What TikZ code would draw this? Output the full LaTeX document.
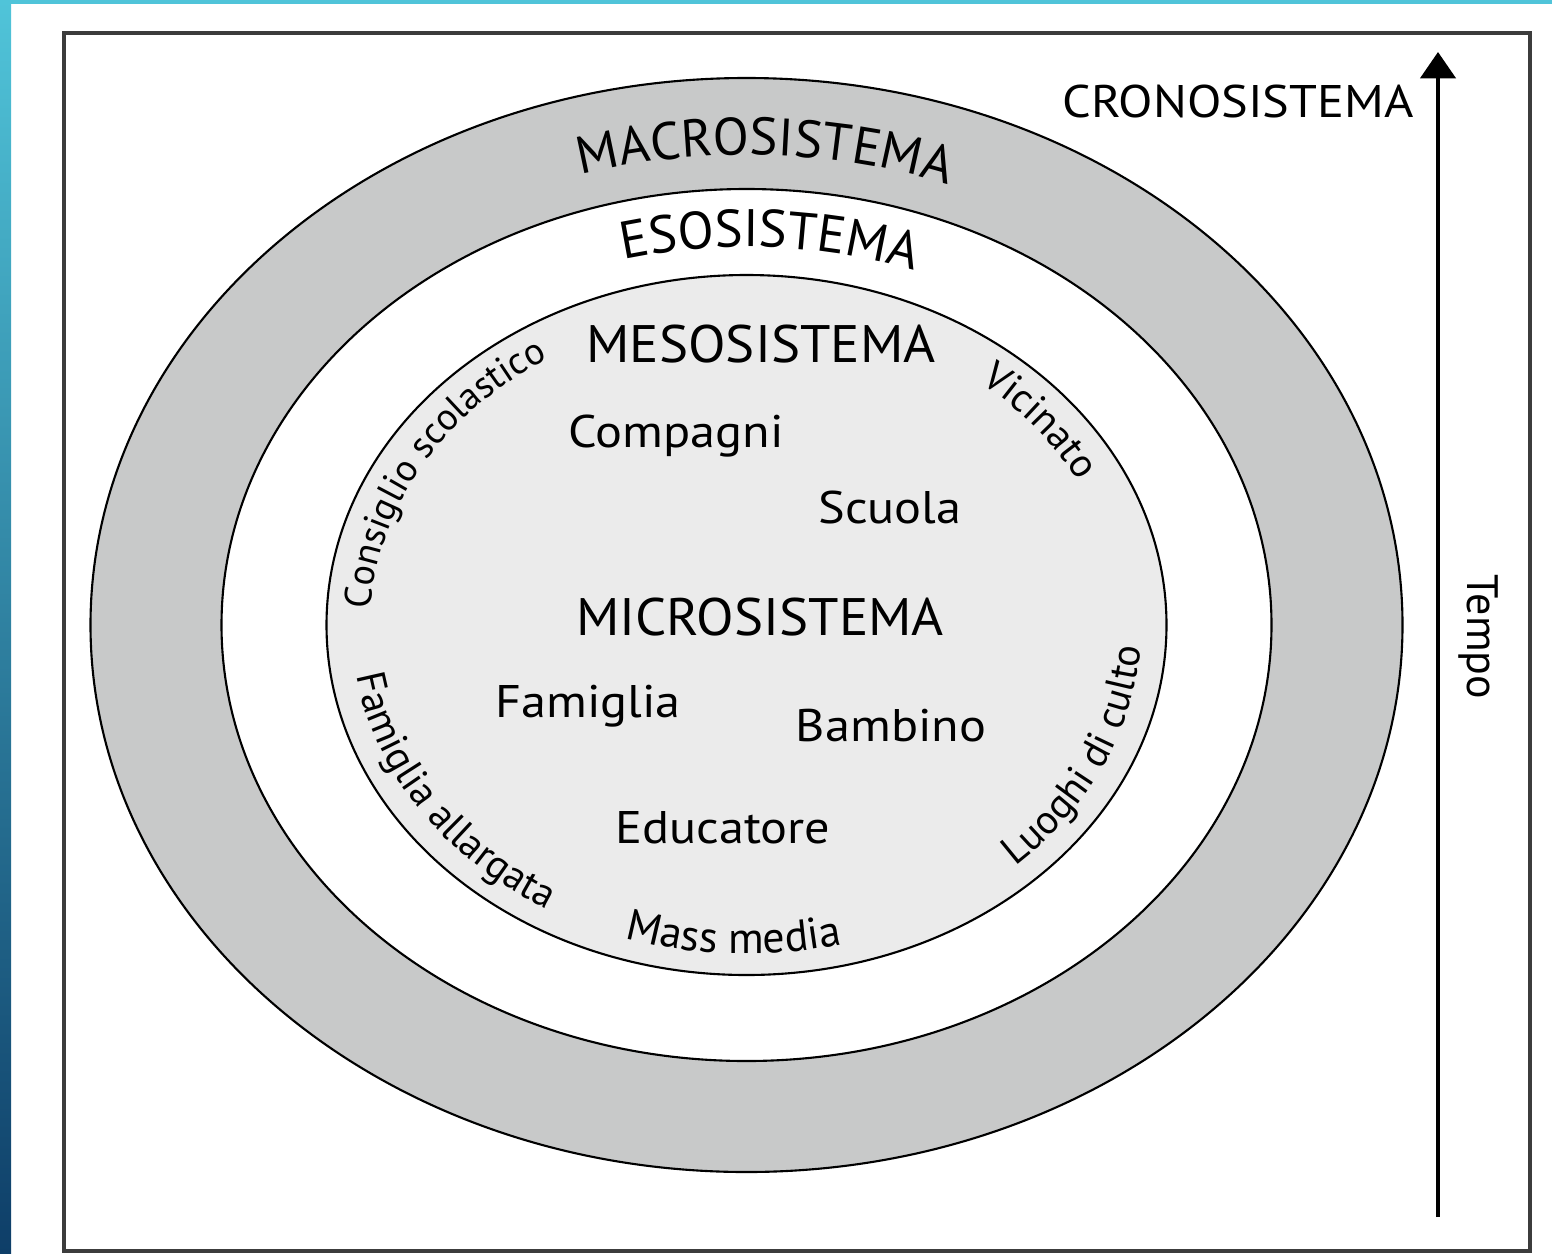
\documentclass[tikz,border=0pt]{standalone}
\usepackage{fontspec}
\setmainfont{PT Sans}
\usetikzlibrary{arrows.meta,decorations.text}

\definecolor{ringgray}{RGB}{200,201,201}
\definecolor{mesogray}{RGB}{235,235,235}
\definecolor{barteal}{RGB}{80,196,217}
\definecolor{barmid}{RGB}{44,140,180}
\definecolor{barblue}{RGB}{14,62,104}
\definecolor{framegray}{RGB}{60,60,60}

\newcommand{\ringfont}{\fontsize{15}{18}\selectfont}
\newcommand{\sysfont}{\fontsize{15}{18}\selectfont}
\newcommand{\itemfont}{\fontsize{13}{15}\selectfont}
\newcommand{\arcfont}{\fontsize{11.5}{14}\selectfont}

\begin{document}
\begin{tikzpicture}[x=0.01cm, y=0.01cm,
  ring/.style={draw=black, line width=0.6pt},
  sys/.style={font=\sysfont, anchor=base, inner sep=0pt, xscale=1.04},
  item/.style={font=\itemfont, anchor=base, inner sep=0pt, xscale=1.1},
  arclabel/.style={decorate, decoration={text along path, text align=center, text={#1}}}]
\useasboundingbox (0,0) rectangle (1552,1253);
% coloured edges of the slide
\shade[top color=barteal, middle color=barmid, bottom color=barblue] (0,0) rectangle (11,1253);
\fill[barteal] (0,1249) rectangle (1552,1253);
\draw[framegray, line width=0.9pt] (64,2) rectangle (1530,1220);
%
\coordinate (c) at (746.5,628);
\draw[ring, fill=ringgray] (c) ellipse [x radius=656, y radius=547];
\draw[ring, fill=white] (c) ellipse [x radius=525, y radius=436];
\draw[ring, fill=mesogray] (c) ellipse [x radius=420, y radius=350];
%
\path[arclabel={|\ringfont|MACROSISTEMA}] (c) ++(128:579 and 470) arc[start angle=128, end angle=48, x radius=579, y radius=470];
\path[arclabel={|\ringfont|ESOSISTEMA}] (c) ++(127:480 and 378) arc[start angle=127, end angle=47, x radius=480, y radius=378];
\path[arclabel={|\fontsize{10.8}{13}\selectfont|Consiglio scolastico}] (c) ++(185:376 and 313) arc[start angle=185, end angle=115, x radius=376, y radius=313];
\path[arclabel={|\arcfont|Vicinato}] (c) ++(59:374 and 311) arc[start angle=59, end angle=19, x radius=374, y radius=311];
\path[arclabel={|\arcfont|Famiglia allargata}] (c) ++(184:395 and 329) arc[start angle=184, end angle=244, x radius=395, y radius=329];
\path[arclabel={|\fontsize{12.5}{15}\selectfont|Mass media}] (c) ++(240:395 and 329) arc[start angle=240, end angle=296, x radius=395, y radius=329];
\path[arclabel={|\arcfont|Luoghi di culto}] (c) ++(305:395 and 329) arc[start angle=305, end angle=365, x radius=395, y radius=329];
%
\node[sys] (meso) at (761,891) {MESOSISTEMA};
\node[sys] (micro) at (760,618) {MICROSISTEMA};
\node[item] (compagni) at (676,806) {Compagni};
\node[item] (scuola) at (890,730) {Scuola};
\node[item] (famiglia) at (588,536) {Famiglia};
\node[item] (bambino) at (891,512) {Bambino};
\node[item] (educatore) at (723,410) {Educatore};
%
\node[font=\fontsize{13}{16}\selectfont, xscale=1.1, anchor=base, inner sep=0pt] (crono) at (1238,1136) {CRONOSISTEMA};
\coordinate (t0) at (1438,36);
\coordinate (t1) at (1438,1201);
\draw[line width=1.15pt, -{Triangle[width=10pt, length=7.5pt]}] (t0) -- (t1);
\node[font=\fontsize{12.5}{15}\selectfont, rotate=-90, anchor=base, inner sep=0pt] (tempo) at (1467,616) {Tempo};
\end{tikzpicture}
\end{document}
